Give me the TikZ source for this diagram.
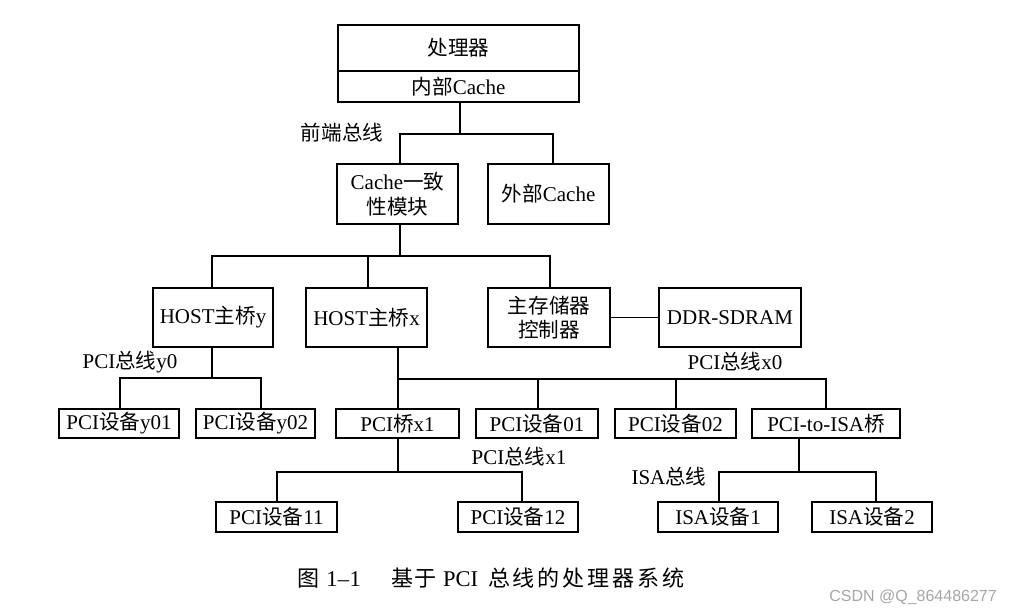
\documentclass[tikz,border=0pt]{standalone}
\usepackage{fontspec}
\setmainfont{Liberation Serif}
\newfontfamily\cjk{Noto Sans CJK SC}[Scale=0.98]
\newfontfamily\wmfont{Liberation Sans}
\newcommand\zh[1]{{\cjk #1}}
\begin{document}
\begin{tikzpicture}[x=1pt,y=-1pt,
  box/.style={draw, line width=1.8pt, inner sep=0pt, align=center,
    font=\fontsize{21}{24.5}\selectfont},
  conn/.style={line width=1.1pt},
  lbl/.style={inner sep=0pt, font=\fontsize{21}{24}\selectfont}]
\useasboundingbox (0,0) rectangle (1012,615);
\fill[white] (0,0) rectangle (1012,615);

% processor
\node[box, minimum width=241pt, minimum height=46pt] (proc) at (458.5,48) {\zh{处理器}};
\node[box, minimum width=241pt, minimum height=31pt] (icache) at (458.5,86.5) {\zh{内部}Cache};

% second level
\node[box, minimum width=121pt, minimum height=60pt] (cc) at (397.5,194) {Cache\zh{一致}\\\zh{性模块}};
\node[box, minimum width=121pt, minimum height=60pt] (ecache) at (548.5,194) {\zh{外部}Cache};

% third level
\node[box, minimum width=120pt, minimum height=59pt] (hy) at (213,317.5) {HOST\zh{主桥}y};
\node[box, minimum width=121pt, minimum height=59pt] (hx) at (366.5,317.5) {HOST\zh{主桥}x};
\node[box, minimum width=122pt, minimum height=59pt] (mc) at (549,317.5) {\zh{主存储器}\\\zh{控制器}};
\node[box, minimum width=142pt, minimum height=59pt] (ddr) at (730,317.5) {DDR-SDRAM};

% fourth level
\node[box, minimum width=120pt, minimum height=29pt] (y01) at (119,423.5) {PCI\zh{设备}y01};
\node[box, minimum width=119pt, minimum height=29pt] (y02) at (255.5,423.5) {PCI\zh{设备}y02};
\node[box, minimum width=123pt, minimum height=29pt] (bx1) at (397.5,423.5) {PCI\zh{桥}x1};
\node[box, minimum width=122pt, minimum height=29pt] (d01) at (537,423.5) {PCI\zh{设备}01};
\node[box, minimum width=121pt, minimum height=29pt] (d02) at (675.5,423.5) {PCI\zh{设备}02};
\node[box, minimum width=148pt, minimum height=29pt] (isab) at (826,423.5) {PCI-to-ISA\zh{桥}};

% fifth level
\node[box, minimum width=121pt, minimum height=30pt] (d11) at (276.5,517) {PCI\zh{设备}11};
\node[box, minimum width=120pt, minimum height=30pt] (d12) at (518,517) {PCI\zh{设备}12};
\node[box, minimum width=120pt, minimum height=30pt] (isa1) at (718,517) {ISA\zh{设备}1};
\node[box, minimum width=120pt, minimum height=30pt] (isa2) at (872,517) {ISA\zh{设备}2};

% front side bus
\coordinate (fsb) at (460,134);
\coordinate (fsbL) at (400,134);
\coordinate (fsbR) at (553,134);
\draw[conn] (fsb |- icache.south) -- (fsb);
\draw[conn] (fsbL |- cc.north) -- (fsbL) -- (fsbR) -- (fsbR |- ecache.north);
\node[lbl] (fsblbl) at (342,133) {\zh{前端总线}};

% host bus
\coordinate (hb) at (400,256);
\coordinate (hbL) at (212,256);
\coordinate (hbM) at (368,256);
\coordinate (hbR) at (550,256);
\draw[conn] (hb |- cc.south) -- (hb);
\draw[conn] (hbL |- hy.north) -- (hbL) -- (hbR) -- (hbR |- mc.north);
\draw[conn] (hbM) -- (hbM |- hx.north);
\draw[conn] (mc.east) -- (ddr.west);

% PCI bus y0
\coordinate (by) at (212,378);
\coordinate (byL) at (120,378);
\coordinate (byR) at (261,378);
\draw[conn] (by |- hy.south) -- (by);
\draw[conn] (byL |- y01.north) -- (byL) -- (byR) -- (byR |- y02.north);
\node[lbl] (bylbl) at (130,362) {PCI\zh{总线}y0};

% PCI bus x0
\coordinate (bx) at (398,379);
\coordinate (bx2) at (538,379);
\coordinate (bx3) at (676,379);
\coordinate (bxR) at (826,379);
\draw[conn] (bx |- hx.south) -- (bx |- bx1.north);
\draw[conn] (bx) -- (bxR) -- (bxR |- isab.north);
\draw[conn] (bx2) -- (bx2 |- d01.north);
\draw[conn] (bx3) -- (bx3 |- d02.north);
\node[lbl] (bxlbl) at (735,362) {PCI\zh{总线}x0};

% PCI bus x1
\coordinate (b1) at (398,472);
\coordinate (b1L) at (277,472);
\coordinate (b1R) at (522,472);
\draw[conn] (b1 |- bx1.south) -- (b1);
\draw[conn] (b1L |- d11.north) -- (b1L) -- (b1R) -- (b1R |- d12.north);
\node[lbl] (b1lbl) at (519,457) {PCI\zh{总线}x1};

% ISA bus
\coordinate (bi) at (799,472);
\coordinate (biL) at (719,472);
\coordinate (biR) at (876,472);
\draw[conn] (bi |- isab.south) -- (bi);
\draw[conn] (biL |- isa1.north) -- (biL) -- (biR) -- (biR |- isa2.north);
\node[lbl] (bilbl) at (669,477) {ISA\zh{总线}};

% caption
\node[inner sep=0pt, anchor=west, font=\fontsize{22.5}{24}\selectfont] (cap) at (297,578)
  {\zh{图}\hspace{7pt}1\kern0.5pt–\kern0.5pt1\hspace{30pt}\zh{基\kern1pt于}\hspace{7pt}PCI\hspace{10pt}%
   \zh{总\kern2.8pt线\kern2.8pt的\kern2.8pt处\kern2.8pt理\kern2.8pt器\kern2.8pt系\kern2.8pt统}};
\node[inner sep=0pt, anchor=east, text=black!35, font=\wmfont\fontsize{16}{18}\selectfont] (wm) at (997,597) {CSDN @Q\_864486277};
\end{tikzpicture}
\end{document}
